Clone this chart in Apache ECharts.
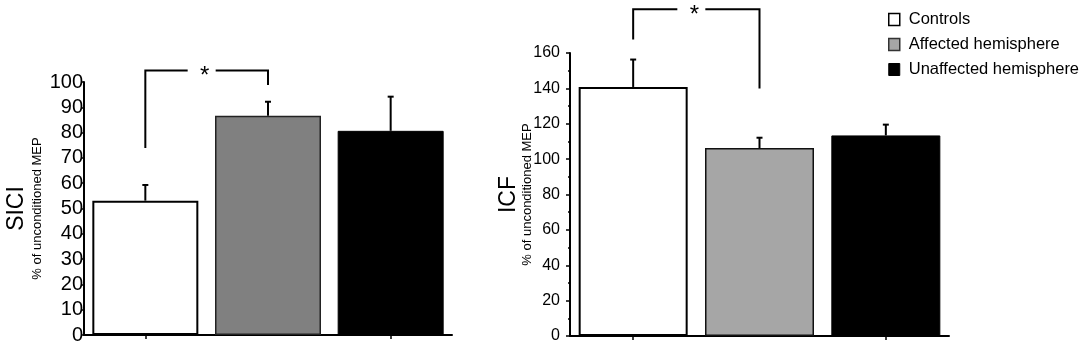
<!DOCTYPE html>
<html>
<head>
<meta charset="utf-8">
<script src="https://cdn.jsdelivr.net/npm/echarts@6/dist/echarts.min.js"></script>
<style>
  html, body { margin: 0; padding: 0; background: #fff; }
  #chart { width: 1084px; height: 351px; }
</style>
</head>
<body>
<div id="chart"></div>
<script>
// ---- data ----
const categories = ['Controls', 'Affected hemisphere', 'Unaffected hemisphere'];
const siciMean = [53.1, 86.7, 80.7];
const siciErr = [6.2, 5.5, 13.5];
const icfMean = [140.8, 106.3, 113.4];
const icfErr = [15.5, 5.8, 6.1];
const siciAxisRange = [0, 100, 10];   // min, max, step
const icfAxisRange = [0, 160, 20];
// significance brackets: [cat from, cat to, left foot, top, right foot]
const siciSig = [[0, 1, 73.9, 104.5, 98.8]];
const icfSig = [[0, 1, 167.7, 184.7, 140.0]];
const yTitleSici = 'SICI';
const yTitleIcf = 'ICF';
const yUnit = '% of unconditioned MEP';

const FONT = '"Liberation Sans", Arial, sans-serif';

const leftStyles = [
  { color: '#ffffff', borderColor: '#000', borderWidth: 2 },
  { color: '#808080', borderColor: '#222', borderWidth: 1.5 },
  { color: '#000000', borderColor: '#000', borderWidth: 1 }
];
const rightStyles = [
  { color: '#ffffff', borderColor: '#000', borderWidth: 2 },
  { color: '#a6a6a6', borderColor: '#111', borderWidth: 1.5 },
  { color: '#000000', borderColor: '#000', borderWidth: 1 }
];

function errRender(params, api) {
  const base = api.coord([api.value(0), api.value(1)]);
  const top = api.coord([api.value(0), api.value(1) + api.value(2)]);
  const st = { stroke: '#000', lineWidth: 2 };
  return {
    type: 'group',
    children: [
      { type: 'line', shape: { x1: base[0], y1: base[1], x2: top[0], y2: top[1] }, style: st },
      { type: 'line', shape: { x1: top[0] - 3, y1: top[1], x2: top[0] + 3, y2: top[1] }, style: st }
    ]
  };
}

function bracketRender(params, api) {
  const l = api.coord([api.value(0), api.value(2)]);
  const t = api.coord([api.value(0), api.value(3)]);
  const rt = api.coord([api.value(1), api.value(3)]);
  const r = api.coord([api.value(1), api.value(4)]);
  const mid = (t[0] + rt[0]) / 2 - 2;
  const st = { stroke: '#000', lineWidth: 2, fill: null };
  return {
    type: 'group',
    children: [
      { type: 'polyline', shape: { points: [l, t, [mid - 17, t[1]]] }, style: st },
      { type: 'polyline', shape: { points: [[mid + 11, t[1]], rt, r] }, style: st },
      { type: 'text', x: mid, y: t[1] + 6,
        style: { text: '*', font: '24px ' + FONT, fill: '#000', align: 'center', verticalAlign: 'middle' } }
    ]
  };
}

function barSeries(gridIdx, means, styles, width) {
  return categories.map((name, i) => ({
    type: 'bar',
    name: name,
    xAxisIndex: gridIdx,
    yAxisIndex: gridIdx * 2,
    stack: 'g' + gridIdx,
    barWidth: width,
    data: means.map((v, j) => (j === i ? v : '-')),
    itemStyle: styles[i],
    emphasis: { disabled: true },
    z: 2
  }));
}

function errSeries(gridIdx, means, errs) {
  return {
    type: 'custom',
    xAxisIndex: gridIdx,
    yAxisIndex: gridIdx * 2,
    renderItem: errRender,
    data: means.map((m, i) => [i, m, errs[i]]),
    z: 3,
    silent: true
  };
}

function sigSeries(gridIdx, sig) {
  return {
    type: 'custom',
    xAxisIndex: gridIdx,
    yAxisIndex: gridIdx * 2,
    renderItem: bracketRender,
    data: sig,
    clip: false,
    z: 4,
    silent: true
  };
}

function xAxis(gridIdx) {
  return {
    type: 'category',
    gridIndex: gridIdx,
    data: categories,
    axisLine: { lineStyle: { color: '#000', width: 2 } },
    axisTick: { show: true, alignWithLabel: true, length: 4, lineStyle: { color: '#000', width: 1.5 } },
    axisLabel: { show: false },
    splitLine: { show: false }
  };
}

function mainY(gridIdx, range, fontSize, margin, tickLen, minor, nameGap) {
  return {
    type: 'value',
    gridIndex: gridIdx,
    min: range[0], max: range[1], interval: range[2],
    axisLine: { show: true, lineStyle: { color: '#000', width: 2 } },
    axisTick: { show: true, length: tickLen, lineStyle: { color: '#000', width: 1.5 } },
    minorTick: { show: minor, splitNumber: 2, length: 2, lineStyle: { color: '#000', width: 1.5 } },
    axisLabel: { color: '#000', fontSize: fontSize, fontFamily: FONT, margin: margin },
    splitLine: { show: false },
    name: yUnit,
    nameLocation: 'middle',
    nameGap: nameGap,
    nameMoveOverlap: false,
    nameTextStyle: { color: '#000', fontSize: 13, fontFamily: FONT }
  };
}

function titleY(gridIdx, title, nameGap) {
  return {
    type: 'value',
    gridIndex: gridIdx,
    position: 'left',
    axisLine: { show: false },
    axisTick: { show: false },
    axisLabel: { show: false },
    splitLine: { show: false },
    name: title,
    nameLocation: 'middle',
    nameGap: nameGap,
    nameMoveOverlap: false,
    nameTextStyle: { color: '#000', fontSize: 23, fontFamily: FONT }
  };
}

const chart = echarts.init(document.getElementById('chart'), null, { renderer: 'canvas' });
chart.setOption({
  animation: false,
  backgroundColor: '#fff',
  grid: [
    { left: 84, top: 82, width: 368, height: 253 },
    { left: 570, top: 53, width: 379, height: 283 }
  ],
  legend: {
    orient: 'vertical',
    left: 883,
    top: 6,
    icon: 'rect',
    itemWidth: 11,
    itemHeight: 12,
    itemGap: 8,
    selectedMode: false,
    textStyle: { color: '#000', fontSize: 16.5, fontFamily: FONT, lineHeight: 17, padding: [0, 0, 0, 4] },
    data: [
      { name: categories[0], itemStyle: { color: '#fff', borderColor: '#000', borderWidth: 1.5 } },
      { name: categories[1], itemStyle: { color: '#a6a6a6', borderColor: '#333', borderWidth: 1.5 } },
      { name: categories[2], itemStyle: { color: '#000', borderColor: '#000', borderWidth: 1 } }
    ]
  },
  xAxis: [xAxis(0), xAxis(1)],
  yAxis: [
    mainY(0, siciAxisRange, 20, 1, 3, false, 40),
    titleY(0, yTitleSici, 56),
    mainY(1, icfAxisRange, 16, 10, 4, true, 36),
    titleY(1, yTitleIcf, 50)
  ],
  series: [
    ...barSeries(0, siciMean, leftStyles, 106),
    ...barSeries(1, icfMean, rightStyles, 109),
    errSeries(0, siciMean, siciErr),
    errSeries(1, icfMean, icfErr),
    sigSeries(0, siciSig),
    sigSeries(1, icfSig)
  ]
});
</script>
</body>
</html>
